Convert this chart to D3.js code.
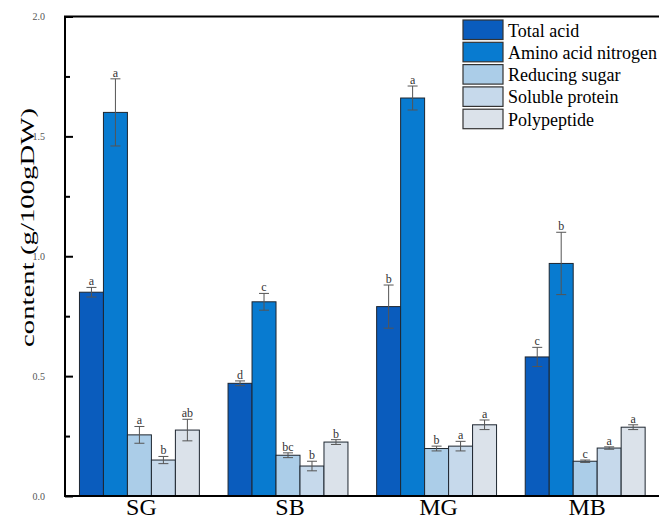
<!DOCTYPE html>
<html>
<head>
<meta charset="utf-8">
<script src="https://cdn.jsdelivr.net/npm/d3@7"></script>
<style>
  body { margin: 0; background: #fff; }
  svg { display: block; }
  svg text { font-family: 'Liberation Serif', 'Times New Roman', serif; }
</style>
</head>
<body>
<div id="chart"></div>
<script>
// data
const groups = ['SG', 'SB', 'MG', 'MB'];
const seriesNames = ['Total acid', 'Amino acid nitrogen', 'Reducing sugar', 'Soluble protein', 'Polypeptide'];
const seriesColors = ['#0a5cbd', '#087bd0', '#abcde8', '#c6d9eb', '#dbe2ea'];

// one row per series, one value per group
const means = [
    [0.85, 0.47, 0.79, 0.58],
    [1.60, 0.81, 1.66, 0.97],
    [0.255, 0.17, 0.198, 0.145],
    [0.15, 0.125, 0.208, 0.20],
    [0.275, 0.225, 0.297, 0.287],
];
const errors = [
    [0.02, 0.01, 0.09, 0.04],
    [0.14, 0.035, 0.05, 0.13],
    [0.035, 0.01, 0.01, 0.005],
    [0.015, 0.02, 0.02, 0.005],
    [0.045, 0.01, 0.02, 0.01],
];
const letters = [
    ['a', 'd', 'b', 'c'],
    ['a', 'c', 'a', 'b'],
    ['a', 'bc', 'b', 'c'],
    ['b', 'b', 'a', 'a'],
    ['ab', 'b', 'a', 'a'],
];
const yTicks = [0, 0.5, 1.0, 1.5, 2.0];
const yMinorTicks = [0.25, 0.75, 1.25, 1.75];

const width = 659, height = 521;
const plot = { left: 65, right: 660, top: 16.5, bottom: 496 };
const serif = "'Liberation Serif', 'Times New Roman', serif";

let svg = d3.select('#chart').append('svg')
    .attr('width', width)
    .attr('height', height);

let x0 = d3.scaleBand().domain(groups).range([plot.left - 0.4, plot.right]).paddingInner(0.193).paddingOuter(0.1);
let x1 = d3.scaleBand().domain(seriesNames).range([0, x0.bandwidth()]);
let y = d3.scaleLinear().domain([0, 2]).range([plot.bottom, plot.top]);

// flatten for drawing
let cells = [];
seriesNames.forEach((s, si) => {
    groups.forEach((g, gi) => {
        cells.push({ s: s, si: si, g: g, v: means[si][gi], e: errors[si][gi], l: letters[si][gi] });
    });
});

// bars
svg.selectAll('.bar')
    .data(cells)
    .enter()
    .append('rect')
    .attr('class', 'bar')
    .attr('x', (d) => x0(d.g) + x1(d.s))
    .attr('width', x1.bandwidth())
    .attr('y', (d) => y(d.v))
    .attr('height', (d) => y(0) - y(d.v))
    .attr('fill', (d) => seriesColors[d.si])
    .attr('stroke', '#1e2630')
    .attr('stroke-width', 1);

// error bars
let eb = svg.selectAll('.err').data(cells).enter().append('g').attr('class', 'err')
    .attr('stroke', '#555')
    .attr('stroke-width', 1)
    .attr('transform', (d) => 'translate(' + (x0(d.g) + x1(d.s) + x1.bandwidth() / 2) + ',0)');
eb.append('line').attr('y1', (d) => y(d.v + d.e)).attr('y2', (d) => y(d.v - d.e));
eb.append('line').attr('x1', -5).attr('x2', 5).attr('y1', (d) => y(d.v + d.e)).attr('y2', (d) => y(d.v + d.e));
eb.append('line').attr('x1', -5).attr('x2', 5).attr('y1', (d) => y(d.v - d.e)).attr('y2', (d) => y(d.v - d.e));

// significance letters
svg.selectAll('.sig')
    .data(cells)
    .enter()
    .append('text')
    .attr('class', 'sig')
    .attr('x', (d) => x0(d.g) + x1(d.s) + x1.bandwidth() / 2)
    .attr('y', (d) => y(d.v + d.e) - 2)
    .attr('text-anchor', 'middle')
    .style('font-family', serif)
    .style('font-size', '12px')
    .attr('fill', '#333')
    .text((d) => d.l);

// y axis (ticks point inward)
let yAxis = svg.append('g')
    .attr('transform', 'translate(' + plot.left + ',0)')
    .call(d3.axisLeft(y).tickValues(yTicks).tickFormat(d3.format('.1f')).tickSize(-8).tickPadding(20));
yAxis.select('.domain').remove();
yAxis.selectAll('line').attr('stroke', '#000').attr('stroke-width', 2);
yAxis.selectAll('text').style('font-size', '10px').attr('fill', '#555').style('font-family', serif);

let yMinor = svg.append('g')
    .attr('transform', 'translate(' + plot.left + ',0)')
    .call(d3.axisLeft(y).tickValues(yMinorTicks).tickFormat('').tickSize(-5));
yMinor.select('.domain').remove();
yMinor.selectAll('line').attr('stroke', '#000').attr('stroke-width', 2);

// frame: left, top, bottom
svg.append('path')
    .attr('d', 'M' + plot.right + ',' + plot.top + 'H' + plot.left + 'V' + plot.bottom + 'H' + plot.right)
    .attr('fill', 'none')
    .attr('stroke', '#000')
    .attr('stroke-width', 2);

// group labels
svg.selectAll('.glabel')
    .data(groups)
    .enter()
    .append('text')
    .attr('class', 'glabel')
    .attr('x', (d) => x0(d) + x0.bandwidth() / 2 + 2)
    .attr('y', 515)
    .attr('text-anchor', 'middle')
    .style('font-family', serif)
    .style('font-size', '24px')
    .attr('fill', '#000')
    .text((d) => d);

// y title (stretched along its length like the original)
svg.append('text')
    .attr('transform', 'translate(34,227.5) rotate(-90)')
    .attr('x', -119.5)
    .attr('textLength', 239)
    .attr('lengthAdjust', 'spacingAndGlyphs')
    .style('font-family', serif)
    .style('font-size', '19px')
    .attr('fill', '#000')
    .text('content (g/100gDW)');

// legend
let legend = svg.selectAll('.legend')
    .data(seriesNames)
    .enter()
    .append('g')
    .attr('class', 'legend')
    .attr('transform', (d, i) => 'translate(463,' + (20 + i * 22.3) + ')');
legend.append('rect')
    .attr('width', 40)
    .attr('height', 19.5)
    .attr('fill', (d, i) => seriesColors[i])
    .attr('stroke', '#333')
    .attr('stroke-width', 1.2);
legend.append('text')
    .attr('x', 45)
    .attr('y', 16.5)
    .style('font-family', serif)
    .style('font-size', '18px')
    .attr('fill', '#000')
    .text((d) => d);
</script>
</body>
</html>
